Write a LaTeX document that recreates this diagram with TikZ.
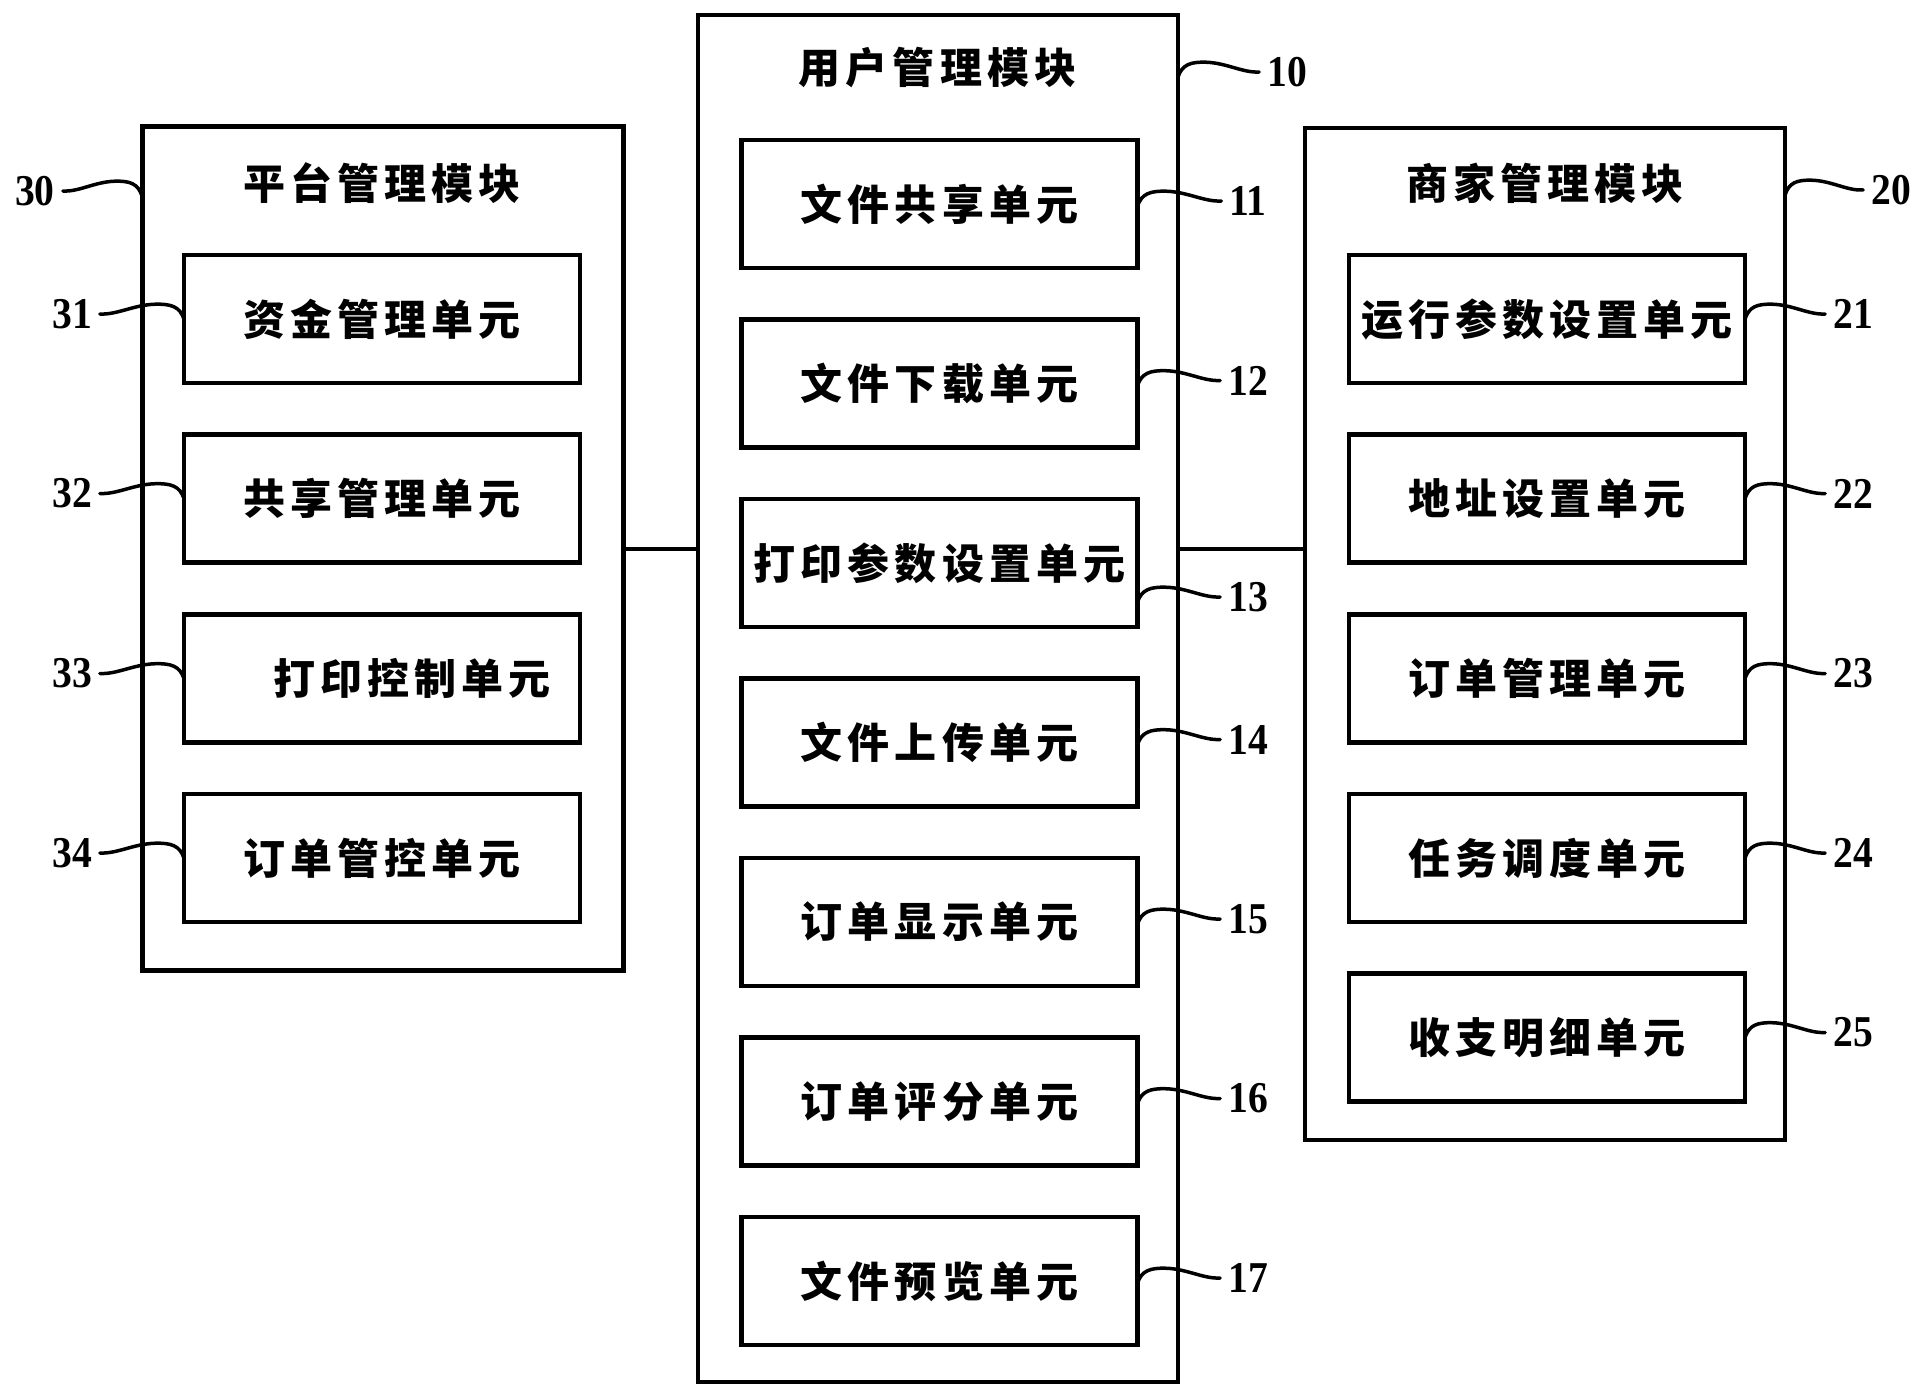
\documentclass[tikz,border=0pt]{standalone}
\usepackage{fontspec}
\newfontfamily\cjkf[LetterSpace=12]{Noto Sans CJK SC}
\newfontfamily\numf[FakeStretch=0.9]{Liberation Serif}
\usetikzlibrary{calc}
\newcommand\mysquig[2]{\draw[sq] (#1) .. controls ($(#1)!0.05!(#2)+(0,-12)$) and ($(#1)!0.15!(#2)+(0,-14.6)$) .. ($(#1)!0.35!(#2)+(0,-13)$) .. controls ($(#1)!0.6!(#2)+(0,-11)$) and ($(#1)!0.8!(#2)$) .. (#2);}
\begin{document}
\begin{tikzpicture}[x=1pt,y=-1pt,
  mod/.style={draw,anchor=north west,inner sep=0pt,outer sep=0pt,line width=4pt},
  unit/.style={draw,line width=4.5pt,inner sep=0pt,outer sep=0pt,minimum height=128pt,minimum width=396pt,font=\cjkf\bfseries\fontsize{42}{50}\selectfont},
  ttl/.style={inner sep=0pt,font=\cjkf\bfseries\fontsize{42}{50}\selectfont},
  lab/.style={inner sep=8pt,outer sep=0pt,font=\numf\bfseries\fontsize{44}{50}\selectfont},
  sq/.style={line width=3.5pt,line cap=round},
  link/.style={line width=4pt}]
\useasboundingbox (0,0) rectangle (1926,1399);
% modules
\node[mod,line width=5pt,minimum width=481pt,minimum height=843pt] (m30) at (142,127) {};
\node[mod,minimum width=480.5pt,minimum height=1367pt] (m10) at (697.5,15) {};
\node[mod,minimum width=480pt,minimum height=1012pt] (m20) at (1305,128) {};
\node[ttl] (t30) at (382,183) {平台管理模块};
\node[ttl] (t10) at (937.5,68) {用户管理模块};
\node[ttl] (t20) at (1545,183) {商家管理模块};
% left units
\node[unit] (u31) at (382,319) {资金管理单元};
\node[unit] (u32) at (382,498.5) {共享管理单元};
\node[unit] (u33) at (382,678.5) {\hspace*{60pt}打印控制单元};
\node[unit] (u34) at (382,858) {订单管控单元};
% center units
\node[unit] (u11) at (939.5,204) {文件共享单元};
\node[unit] (u12) at (939.5,383.5) {文件下载单元};
\node[unit] (u13) at (939.5,563) {打印参数设置单元};
\node[unit] (u14) at (939.5,742.5) {文件上传单元};
\node[unit] (u15) at (939.5,922) {订单显示单元};
\node[unit] (u16) at (939.5,1101.5) {订单评分单元};
\node[unit] (u17) at (939.5,1281) {文件预览单元};
% right units
\node[unit] (u21) at (1547,319) {运行参数设置单元};
\node[unit] (u22) at (1547,498.5) {地址设置单元};
\node[unit] (u23) at (1547,678.5) {订单管理单元};
\node[unit] (u24) at (1547,858) {任务调度单元};
\node[unit] (u25) at (1547,1037.5) {收支明细单元};
% labels
\node[lab] (l30) at (35,191) {30};
\node[lab] (l31) at (72,314) {31};
\node[lab] (l32) at (72,493.5) {32};
\node[lab] (l33) at (72,673.5) {33};
\node[lab] (l34) at (72,853) {34};
\node[lab] (l10) at (1287,72) {10};
\node[lab] (l11) at (1248,201) {11};
\node[lab] (l12) at (1248,380.5) {12};
\node[lab] (l13) at (1248,597) {13};
\node[lab] (l14) at (1248,739.5) {14};
\node[lab] (l15) at (1248,919) {15};
\node[lab] (l16) at (1248,1098.5) {16};
\node[lab] (l17) at (1248,1278) {17};
\node[lab] (l20) at (1891,190) {20};
\node[lab] (l21) at (1853,314) {21};
\node[lab] (l22) at (1853,493.5) {22};
\node[lab] (l23) at (1853,673.5) {23};
\node[lab] (l24) at (1853,853) {24};
\node[lab] (l25) at (1853,1032.5) {25};
% squiggle start points
\coordinate (s30) at ($(m30.west |- l30.east)+(0,5)$);
\foreach \i in {31,32,33,34}{\coordinate (s\i) at ($(u\i.west |- l\i.east)+(0,5)$);}
\coordinate (s10) at ($(m10.east |- l10.west)+(0,5)$);
\coordinate (s20) at ($(m20.east |- l20.west)+(0,5)$);
\foreach \i in {11,12,13,14,15,16,17,21,22,23,24,25}{\coordinate (s\i) at ($(u\i.east |- l\i.west)+(0,5)$);}
\foreach \i in {30,31,32,33,34}{\mysquig{s\i}{l\i.east}}
\foreach \i in {10,11,12,13,14,15,16,17,20,21,22,23,24,25}{\mysquig{s\i}{l\i.west}}
% links
\draw[link] (m30.east) -- (m10.west |- m30.east);
\draw[link] (m10.east |- m30.east) -- (m20.west |- m30.east);
\end{tikzpicture}
\end{document}
